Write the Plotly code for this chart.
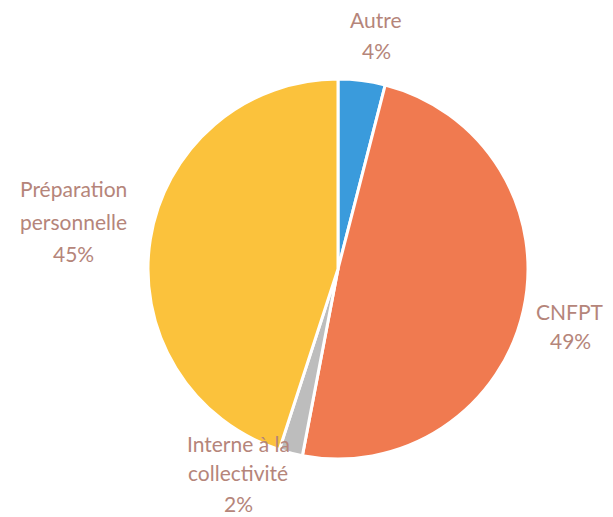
import plotly.graph_objects as go

labels = ["Autre", "CNFPT", "Interne à la collectivité", "Préparation personnelle"]
values = [4, 49, 2, 45]
colors = ["#3A9BDC", "#F07A50", "#BDBDBD", "#FBC23C"]
label_lines = [
    ["Autre", "4%"],
    ["CNFPT", "49%"],
    ["Interne à la", "collectivité", "2%"],
    ["Préparation", "personnelle", "45%"],
]

W, H = 613, 517
OFF = 8  # page body margin offset
cx, cy, r = 338 - OFF, 269 - OFF, 190

fig = go.Figure(go.Pie(
    labels=labels,
    values=values,
    marker=dict(colors=colors, line=dict(color="white", width=3)),
    sort=False,
    direction="clockwise",
    rotation=0,
    textinfo="none",
    hoverinfo="label+percent",
    showlegend=False,
    domain=dict(x=[(cx - r) / W, (cx + r) / W], y=[(H - cy - r) / H, (H - cy + r) / H]),
))

# label anchor positions (pixel centers of each text line, in window coords)
anchors = [
    (376, [20, 50]),
    (570, [311, 340]),
    (238, [443, 472, 503]),
    (73, [188, 221, 253]),
]

annotations = []
for lines, (x, ys) in zip(label_lines, anchors):
    for txt, y in zip(lines, ys):
        annotations.append(dict(
            x=(x - OFF) / W, y=1 - (y - OFF) / H, xref="paper", yref="paper",
            text=txt, showarrow=False, xanchor="center", yanchor="middle",
            font=dict(family="Lato, Open Sans, sans-serif", size=21, color="#B5857A"),
        ))

fig.update_layout(
    width=W, height=H,
    margin=dict(l=0, r=0, t=0, b=0),
    paper_bgcolor="white", plot_bgcolor="white",
    annotations=annotations,
)

fig.write_html("out.html")
